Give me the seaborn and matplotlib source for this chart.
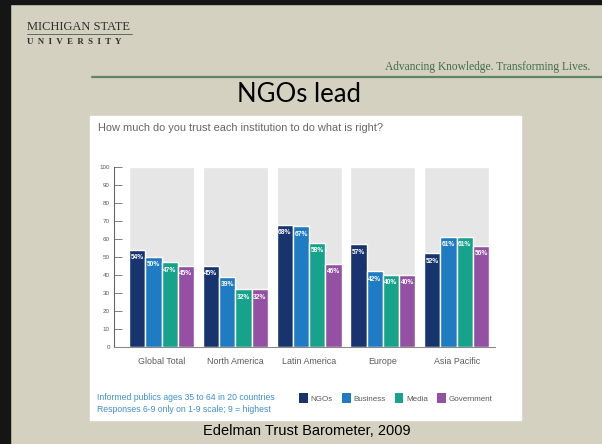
import pandas as pd
import numpy as np
import matplotlib
matplotlib.use("Agg")
import matplotlib.pyplot as plt
from matplotlib.patches import Rectangle, Patch
from matplotlib.lines import Line2D
import seaborn as sb

# Dados
regioes = ["Global Total", "North America", "Latin America", "Europe", "Asia Pacific"]
instituicoes = ["NGOs", "Business", "Media", "Government"]
ngos = [54, 45, 68, 57, 52]
business = [50, 39, 67, 42, 61]
media = [47, 32, 58, 40, 61]
government = [45, 32, 46, 40, 56]
cores = ["#17346f", "#1f7cc3", "#17a38b", "#9450a2"]
yticks = [0, 10, 20, 30, 40, 50, 60, 70, 80, 90, 100]

df = pd.DataFrame({
    "Regiao": regioes * 4,
    "Instituicao": np.repeat(instituicoes, len(regioes)),
    "Valor": ngos + business + media + government,
})

# Estilo
sb.set_style("white")
plt.rcParams["font.family"] = ["Liberation Sans", "DejaVu Sans"]
narrow = ["Liberation Sans Narrow", "Liberation Sans", "DejaVu Sans"]
cinza_txt = "#5a5a5a"
bege = "#d5d1c0"

W, H = 602, 444
fig = plt.figure(figsize=(W / 100, H / 100), dpi=100, facecolor=bege)

def fx(px):
    return px / W

def fy(py):
    return 1 - py / H

# moldura escura do slide
fig.add_artist(Rectangle((0, fy(4)), 1, 4 / H, transform=fig.transFigure, color="#151515", zorder=5))
fig.add_artist(Rectangle((0, 0), fx(10), 1, transform=fig.transFigure, color="#151515", zorder=5))

# cabeçalho
fig.text(fx(27), fy(27), "MICHIGAN STATE", family="Liberation Serif", fontsize=9, color="#2e2e2e", va="center")
fig.add_artist(Line2D([fx(27), fx(132)], [fy(34), fy(34)], transform=fig.transFigure, color="#555555", lw=0.6))
fig.text(fx(27), fy(42), "U  N  I  V  E  R  S  I  T  Y", family="Liberation Serif", fontsize=6.3,
         fontweight="bold", color="#2e2e2e", va="center")
fig.text(fx(590), fy(67), "Advancing Knowledge. Transforming Lives.", family="Liberation Serif",
         fontsize=8.3, color="#3f6b4c", ha="right", va="center")
fig.add_artist(Line2D([fx(92), 1], [fy(77), fy(77)], transform=fig.transFigure, color="#5f8566", lw=1.6))
fig.text(fx(299), fy(95), "NGOs lead", family=["Lato", "DejaVu Sans"], fontsize=18.5, color="black",
         ha="center", va="center")

# painel branco
fig.add_artist(Rectangle((fx(90), fy(420)), fx(521) - fx(90), (420 - 116) / H,
                         transform=fig.transFigure, color="white", zorder=0))
fig.text(fx(98), fy(128), "How much do you trust each institution to do what is right?",
         fontsize=7.9, color="#666666", va="center")

# gráfico
ax = fig.add_axes([fx(114), fy(347), fx(495) - fx(114), (347 - 167) / H])
ax.set_facecolor("white")
sb.barplot(x=regioes, y=[100] * len(regioes), color="#e6e6e6", width=0.88, ax=ax, zorder=1)
sb.barplot(data=df, x="Regiao", y="Valor", hue="Instituicao", hue_order=instituicoes,
           palette=cores, width=0.88, gap=0, dodge=True, ax=ax, legend=False, zorder=2,
           saturation=1)

for c in ax.containers[1:]:
    vals = [int(b.get_height()) for b in c]
    ax.bar_label(c, labels=[f"{v}%" for v in vals], padding=-8, color="white",
                 fontsize=4.8, fontweight="bold", family=narrow)

ax.set_xlim(-0.644, 4.52)
ax.set_ylim(0, 100)
ax.set_yticks(yticks)
ax.set_xlabel("")
ax.set_ylabel("")
for s in ["top", "right"]:
    ax.spines[s].set_visible(False)
ax.spines["left"].set_color("#666666")
ax.spines["left"].set_linewidth(0.8)
ax.spines["bottom"].set_color("#8a8a8a")
ax.spines["bottom"].set_linewidth(0.8)
ax.tick_params(axis="y", direction="in", length=6, width=0.6, color="#666666",
               labelsize=4.5, labelcolor=cinza_txt, pad=3, left=True)
ax.tick_params(axis="x", length=0, pad=7, labelsize=6.4, labelcolor=cinza_txt)
for lab in ax.get_xticklabels() + ax.get_yticklabels():
    lab.set_family(narrow)

# rodapé
fig.text(fx(97), fy(398), "Informed publics ages 35 to 64 in 20 countries", family=narrow,
         fontsize=6.2, color="#3f8fcf", va="center")
fig.text(fx(97), fy(409), "Responses 6-9 only on 1-9 scale; 9 = highest", family=narrow,
         fontsize=6.2, color="#3f8fcf", va="center")

handles = [Patch(facecolor=c, edgecolor="none") for c in cores]
leg = fig.legend(handles, instituicoes, loc="center left", bbox_to_anchor=(fx(299), fy(398)),
                 ncol=4, frameon=False, handlelength=1.1, handleheight=1.4, handletextpad=0.35,
                 columnspacing=1.1, borderpad=0, borderaxespad=0,
                 prop={"family": narrow, "size": 5.8})
for t in leg.get_texts():
    t.set_color(cinza_txt)

fig.text(fx(307), fy(431), "Edelman Trust Barometer, 2009", fontsize=10.5, color="black",
         ha="center", va="center")

fig.savefig("out.png", dpi=100, facecolor=bege)
